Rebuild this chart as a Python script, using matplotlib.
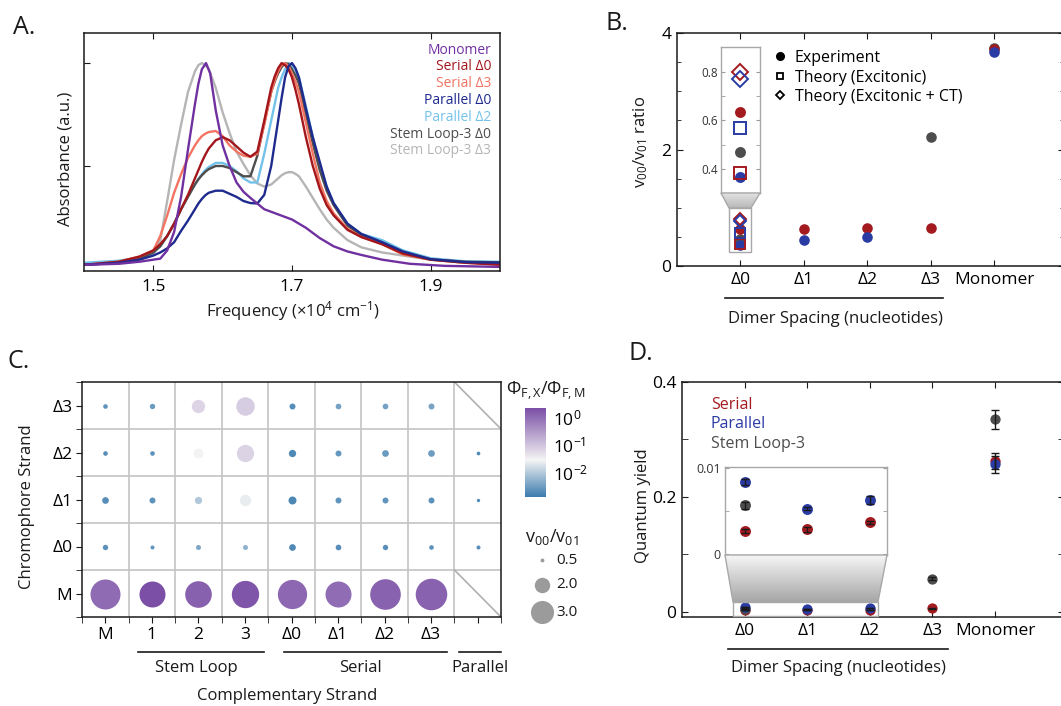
import numpy as np
import matplotlib
matplotlib.use('Agg')
import matplotlib.pyplot as plt
from matplotlib.colors import LinearSegmentedColormap, LogNorm
from matplotlib.cm import ScalarMappable
from matplotlib.lines import Line2D
from matplotlib.patches import Polygon, Rectangle

plt.rcParams['font.family'] = ['Open Sans', 'DejaVu Sans']
plt.rcParams['mathtext.fontset'] = 'custom'
plt.rcParams['mathtext.rm'] = 'Open Sans'
plt.rcParams['mathtext.it'] = 'Open Sans:italic'
plt.rcParams['mathtext.bf'] = 'Open Sans:bold'
plt.rcParams['font.size'] = 12

W, H = 1061, 706

#-----PANEL A: normalised absorbance spectra (x in 1e4 cm^-1)-----#
mono_x = [1.40, 1.45, 1.48, 1.50, 1.51, 1.52, 1.53, 1.54, 1.55, 1.56, 1.565, 1.57, 1.576, 1.582,
          1.59, 1.60, 1.61, 1.62, 1.63, 1.64, 1.66, 1.68, 1.70, 1.72, 1.74, 1.76, 1.78, 1.80,
          1.83, 1.87, 1.92, 2.00]
mono_y = [0.020, 0.025, 0.035, 0.045, 0.050, 0.090, 0.180, 0.350, 0.580, 0.800, 0.900, 0.970, 1.000, 0.950,
          0.770, 0.600, 0.500, 0.420, 0.375, 0.345, 0.290, 0.265, 0.240, 0.200, 0.150, 0.110, 0.085, 0.068,
          0.045, 0.025, 0.015, 0.010]

dimer_x = [1.40, 1.45, 1.48, 1.50, 1.51, 1.52, 1.53, 1.54, 1.55, 1.56, 1.565, 1.57, 1.575, 1.58,
           1.59, 1.60, 1.61, 1.62, 1.63, 1.64, 1.65, 1.66, 1.67, 1.675, 1.68, 1.685, 1.69, 1.695,
           1.70, 1.705, 1.71, 1.72, 1.73, 1.74, 1.75, 1.76, 1.78, 1.80, 1.83, 1.86, 1.90, 1.95, 2.00]
serial_d0 = [0.020, 0.035, 0.060, 0.090, 0.120, 0.160, 0.220, 0.290, 0.360, 0.440, 0.480, 0.520, 0.555, 0.585,
             0.625, 0.640, 0.625, 0.595, 0.565, 0.545, 0.570, 0.720, 0.880, 0.935, 0.975, 1.000, 0.990, 0.970,
             0.930, 0.870, 0.800, 0.640, 0.500, 0.390, 0.310, 0.260, 0.190, 0.155, 0.120, 0.075, 0.045, 0.030, 0.020]
serial_d3 = [0.020, 0.035, 0.060, 0.090, 0.160, 0.260, 0.370, 0.460, 0.540, 0.600, 0.625, 0.645, 0.657, 0.665,
             0.670, 0.645, 0.600, 0.570, 0.550, 0.545, 0.560, 0.700, 0.860, 0.915, 0.960, 0.990, 1.000, 0.985,
             0.950, 0.910, 0.860, 0.710, 0.560, 0.420, 0.330, 0.270, 0.195, 0.155, 0.120, 0.070, 0.045, 0.030, 0.022]
parallel_d0 = [0.020, 0.030, 0.045, 0.065, 0.080, 0.100, 0.130, 0.185, 0.235, 0.290, 0.318, 0.340, 0.358, 0.370,
               0.380, 0.380, 0.365, 0.350, 0.330, 0.320, 0.318, 0.360, 0.500, 0.610, 0.720, 0.830, 0.930, 0.985,
               1.000, 0.975, 0.930, 0.780, 0.640, 0.520, 0.400, 0.320, 0.220, 0.170, 0.130, 0.085, 0.047, 0.033, 0.030]
parallel_d2 = [0.030, 0.040, 0.055, 0.080, 0.110, 0.160, 0.220, 0.290, 0.355, 0.410, 0.437, 0.460, 0.480, 0.495,
               0.515, 0.515, 0.500, 0.475, 0.440, 0.420, 0.420, 0.560, 0.720, 0.800, 0.880, 0.930, 0.970, 1.000,
               0.990, 0.965, 0.930, 0.790, 0.640, 0.500, 0.400, 0.320, 0.220, 0.170, 0.140, 0.090, 0.052, 0.037, 0.035]
stem_d0 = [0.020, 0.030, 0.050, 0.080, 0.110, 0.160, 0.220, 0.290, 0.350, 0.410, 0.435, 0.455, 0.472, 0.485,
           0.500, 0.500, 0.490, 0.470, 0.450, 0.450, 0.550, 0.710, 0.860, 0.910, 0.950, 0.980, 1.000, 0.995,
           0.970, 0.940, 0.900, 0.750, 0.610, 0.480, 0.380, 0.310, 0.210, 0.165, 0.125, 0.080, 0.047, 0.035, 0.032]
stem_d3 = [0.020, 0.030, 0.045, 0.070, 0.140, 0.330, 0.530, 0.700, 0.860, 0.960, 0.990, 1.000, 0.990, 0.970,
           0.880, 0.760, 0.660, 0.570, 0.510, 0.455, 0.415, 0.400, 0.410, 0.425, 0.440, 0.455, 0.465, 0.470,
           0.470, 0.462, 0.450, 0.400, 0.345, 0.290, 0.240, 0.200, 0.140, 0.105, 0.080, 0.065, 0.045, 0.030, 0.028]

spectra_labels = ['Monomer', 'Serial Δ0', 'Serial Δ3', 'Parallel Δ0', 'Parallel Δ2',
                  'Stem Loop-3 Δ0', 'Stem Loop-3 Δ3']
spectra_colors = ['#7030A0', '#A3161B', '#F27462', '#1E2A8E', '#72C2EA', '#4D4D4D', '#B5B5B5']

#-----PANEL B: v00/v01 ratios-----#
spacing_labels = ['Δ0', 'Δ1', 'Δ2', 'Δ3', 'Monomer']
ratio_exp_serial = [0.635, 0.635, 0.65, 0.66, 3.72]
ratio_exp_parallel = [0.365, 0.45, 0.50, np.nan, 3.68]
ratio_exp_stem = [0.47, np.nan, np.nan, 2.22, 3.75]
ratio_exc_serial = 0.385      # theory (excitonic), Δ0 only
ratio_exc_parallel = 0.57
ratio_ct_serial = 0.80        # theory (excitonic + CT), Δ0 only
ratio_ct_parallel = 0.77

#-----PANEL C: grid of quantum-yield ratio (colour) and v00/v01 (size)-----#
comp_labels = ['M', '1', '2', '3', 'Δ0', 'Δ1', 'Δ2', 'Δ3', '']
chrom_labels = ['Δ3', 'Δ2', 'Δ1', 'Δ0', 'M']      # rows, top to bottom
phi_ratio = np.array([
    [0.0025, 0.0030, 0.065, 0.078, 0.0022, 0.0036, 0.0036, 0.0038, np.nan],
    [0.0022, 0.0024, 0.030, 0.068, 0.0020, 0.0028, 0.0030, 0.0032, 0.0020],
    [0.0022, 0.0025, 0.0095, 0.024, 0.0019, 0.0026, 0.0027, 0.0024, 0.0020],
    [0.0024, 0.0026, 0.0042, 0.0056, 0.0020, 0.0023, 0.0023, 0.0024, 0.0022],
    [1.00, 2.10, 1.35, 1.80, 1.10, 0.98, 1.25, 1.25, np.nan]])
vib_ratio = np.array([
    [0.60, 0.70, 1.73, 2.40, 0.78, 0.74, 0.74, 0.78, np.nan],
    [0.60, 0.60, 1.30, 2.25, 0.95, 0.78, 0.87, 0.87, 0.48],
    [0.87, 0.78, 0.95, 1.47, 1.04, 0.78, 0.78, 0.78, 0.43],
    [0.70, 0.52, 0.65, 0.65, 0.87, 0.74, 0.70, 0.60, 0.52],
    [3.90, 3.38, 3.46, 3.55, 3.80, 3.38, 3.98, 4.10, np.nan]])
size_legend_values = [0.5, 2.0, 3.0]

#-----PANEL D: quantum yields-----#
qy_serial = [0.0027, 0.0029, 0.0037, 0.006, 0.263]
qy_serial_err = [0.0002, 0.0003, 0.0002, 0.0015, 0.014]
qy_parallel = [0.0084, 0.0053, 0.0063, np.nan, 0.257]
qy_parallel_err = [0.0003, 0.0002, 0.0005, np.nan, 0.015]
qy_stem = [0.0057, np.nan, np.nan, 0.058, 0.335]
qy_stem_err = [0.0004, np.nan, np.nan, 0.003, 0.017]

RED, BLUE, GREY = '#A31A1F', '#2A3BA3', '#4D4D4D'
FRAME = '#1a1a1a'


def px_rect(l, t, r, b):
    return [l / W, 1 - b / H, (r - l) / W, (b - t) / H]


def frame(ax, color=FRAME, lw=1.1):
    for s in ax.spines.values():
        s.set_color(color)
        s.set_linewidth(lw)


fig = plt.figure(figsize=(W / 100, H / 100), dpi=100)

# ---- A ----
ax_a = fig.add_axes(px_rect(84, 33, 500, 271))
series = [stem_d3, parallel_d2, stem_d0, serial_d3, serial_d0, parallel_d0]
order = [6, 4, 5, 2, 1, 3]
for idx, ys in zip(order, series):
    ax_a.plot(dimer_x, ys, color=spectra_colors[idx], lw=1.7, solid_joinstyle='round')
ax_a.plot(mono_x, mono_y, color=spectra_colors[0], lw=1.7, solid_joinstyle='round')
ax_a.set_xlim(1.4, 2.0)
ax_a.set_ylim(-0.01, 1.146)
ax_a.set_xticks([1.5, 1.7, 1.9])
ax_a.set_yticks([0.5, 1.0])
ax_a.set_yticklabels([])
ax_a.tick_params(direction='in', top=True, length=4, labelsize=12.5, pad=6, color=FRAME)
frame(ax_a)
for i, (lab, col) in enumerate(zip(spectra_labels, spectra_colors)):
    ax_a.text(491 / W, 1 - (50 + i * 16.8) / H, lab, color=col, fontsize=10,
              ha='right', va='center', transform=fig.transFigure)

# ---- B ----
ax_b = fig.add_axes(px_rect(677, 33, 1064, 266))
xs = np.arange(1, 6)
ax_b.scatter(xs, ratio_exp_stem, s=58, color=GREY, zorder=3, lw=0)
ax_b.scatter(xs, ratio_exp_serial, s=58, color=RED, zorder=3, lw=0)
ax_b.scatter(xs, ratio_exp_parallel, s=58, color=BLUE, zorder=3, lw=0)


def theory_markers(ax, ms):
    ax.plot([1], [ratio_exc_serial], ls='none', marker='s', ms=ms * 0.85, mfc='none', mec=RED, mew=1.4, zorder=4)
    ax.plot([1], [ratio_exc_parallel], ls='none', marker='s', ms=ms * 0.85, mfc='none', mec=BLUE, mew=1.4, zorder=4)
    ax.plot([1], [ratio_ct_serial], ls='none', marker='D', ms=ms * 0.8, mfc='none', mec=RED, mew=1.4, zorder=4)
    ax.plot([1], [ratio_ct_parallel], ls='none', marker='D', ms=ms * 0.8, mfc='none', mec=BLUE, mew=1.4, zorder=4)


theory_markers(ax_b, 8)
ax_b.set_xlim(0, 6.1)
ax_b.set_ylim(0, 4)
ax_b.set_xticks(xs)
ax_b.set_xticklabels(spacing_labels)
ax_b.set_yticks([0, 2, 4])
ax_b.set_yticks(np.arange(0, 4.01, 0.5), minor=True)
ax_b.tick_params(direction='in', top=True, right=True, length=4, labelsize=12.5, pad=4, color=FRAME)
ax_b.tick_params(which='minor', direction='in', right=True, length=3, color=FRAME)
frame(ax_b)
handles = [Line2D([], [], ls='none', marker='o', ms=5.5, color='k'),
           Line2D([], [], ls='none', marker='s', ms=5, mfc='none', mec='k', mew=1.3),
           Line2D([], [], ls='none', marker='D', ms=4.5, mfc='none', mec='k', mew=1.3)]
ax_b.legend(handles, ['Experiment', 'Theory (Excitonic)', 'Theory (Excitonic + CT)'],
            loc='upper left', bbox_to_anchor=(774 / W, 1 - 50 / H), bbox_transform=fig.transFigure,
            frameon=False, fontsize=11.5, handlelength=0.8, handletextpad=0.5,
            labelspacing=0.22, borderpad=0, borderaxespad=0)

# inset of B
ins_b = fig.add_axes(px_rect(721, 47, 760, 193))
ins_b.scatter([1], [ratio_exp_serial[0]], s=62, color=RED, lw=0, zorder=3)
ins_b.scatter([1], [ratio_exp_stem[0]], s=62, color=GREY, lw=0, zorder=3)
ins_b.scatter([1], [ratio_exp_parallel[0]], s=62, color=BLUE, lw=0, zorder=3)
theory_markers(ins_b, 10.5)
ins_b.set_xlim(0.5, 1.5)
ins_b.set_ylim(0.301, 0.903)
ins_b.set_xticks([])
ins_b.set_yticks([0.4, 0.6, 0.8])
ins_b.set_yticks([0.5, 0.7], minor=True)
ins_b.tick_params(axis='y', which='both', direction='in', right=True, length=3, color='#9a9a9a',
                  labelsize=8.5, labelcolor='#333333', pad=2)
frame(ins_b, '#a8a8a8', 1.0)

# ---- C ----
ax_c = fig.add_axes(px_rect(82, 382, 501, 617))
cmap = LinearSegmentedColormap.from_list(
    'bwp', [(0.0, '#3A7BAE'), (0.415, '#F4F4F4'), (1.0, '#7B4FA6')])
norm = LogNorm(vmin=10 ** -2.86, vmax=10 ** 0.32)
nrow, ncol = phi_ratio.shape
for i in range(nrow):
    yc = nrow - 1 - i + 0.5
    for j in range(ncol):
        if np.isnan(phi_ratio[i, j]):
            continue
        ax_c.scatter(j + 0.5, yc, s=30.7 * vib_ratio[i, j] ** 2,
                     color=cmap(norm(phi_ratio[i, j])), lw=0, zorder=3)
for k in range(1, ncol):
    ax_c.axvline(k, color='#c4c4c4', lw=1.2, zorder=1)
for k in range(1, nrow):
    ax_c.axhline(k, color='#c4c4c4', lw=1.2, zorder=1)
ax_c.plot([8, 9], [5, 4], color='#b0b0b0', lw=1.2, zorder=1)
ax_c.plot([8, 9], [1, 0], color='#b0b0b0', lw=1.2, zorder=1)
ax_c.set_xlim(0, 9)
ax_c.set_ylim(0, 5)
ax_c.set_xticks(np.arange(ncol) + 0.5)
ax_c.set_xticklabels(comp_labels)
ax_c.set_yticks(np.arange(nrow) + 0.5)
ax_c.set_yticklabels(chrom_labels[::-1])
ax_c.set_xticks(np.arange(0, ncol + 1), minor=True)
ax_c.set_yticks(np.arange(0, nrow + 1), minor=True)
ax_c.tick_params(which='both', direction='out', length=4, color=FRAME, labelsize=12.5, pad=3)
frame(ax_c)

cax = fig.add_axes(px_rect(525, 408, 546, 497))
cb = fig.colorbar(ScalarMappable(norm=norm, cmap=cmap), cax=cax)
cb.outline.set_visible(False)
cb.set_ticks([1, 0.1, 0.01])
cb.set_ticklabels(['10$^{0}$', '10$^{-1}$', '10$^{-2}$'])
cb.ax.minorticks_off()
cb.ax.tick_params(length=0, labelsize=12.5, pad=5)

# ---- D ----
ax_d = fig.add_axes(px_rect(682, 382, 1064, 617))


def qy_points(ax, ms):
    for vals, errs, col in [(qy_serial, qy_serial_err, RED), (qy_stem, qy_stem_err, GREY),
                            (qy_parallel, qy_parallel_err, BLUE)]:
        ax.scatter(xs, vals, s=ms, color=col, lw=0, zorder=3)
        ax.errorbar(xs, vals, yerr=errs, fmt='none', ecolor='#1a1a1a', elinewidth=1.0,
                    capsize=3, capthick=1.0, zorder=4)


qy_points(ax_d, 55)
ax_d.set_xlim(0, 6.1)
ax_d.set_ylim(-0.009, 0.4)
ax_d.set_xticks(xs)
ax_d.set_xticklabels(spacing_labels)
ax_d.set_yticks([0, 0.2, 0.4])
ax_d.set_yticklabels(['0', '0.2', '0.4'])
ax_d.set_yticks([0.1, 0.3], minor=True)
ax_d.tick_params(direction='in', top=True, right=True, length=4, labelsize=12.5, pad=4, color=FRAME)
ax_d.tick_params(which='minor', direction='in', right=True, length=4, color=FRAME)
frame(ax_d)

ins_d = fig.add_axes(px_rect(725, 467, 887, 555))
qy_points(ins_d, 62)
ins_d.set_xlim(0.687, 3.274)
ins_d.set_ylim(-0.0001, 0.01015)
ins_d.set_xticks([])
ins_d.set_yticks([0, 0.01])
ins_d.set_yticklabels(['0', '0.01'])
ins_d.set_yticks([0.005], minor=True)
ins_d.tick_params(axis='y', which='both', direction='in', right=True, length=3, color='#9a9a9a',
                  labelsize=9, labelcolor='#333333', pad=3)
frame(ins_d, '#a8a8a8', 1.0)

# ---- overlay: labels, brackets, zoom funnels ----
ov = fig.add_axes([0, 0, 1, 1], zorder=5)
ov.patch.set_alpha(0)


def funnel(x_top, x_bot, y0, y1, c0, c1):
    poly = Polygon([(x_top[0], y0), (x_top[1], y0), (x_bot[1], y1), (x_bot[0], y1)],
                   closed=True, fc='none', ec='#a8a8a8', lw=1.0, zorder=3)
    ov.add_patch(poly)
    grad = np.linspace(0, 1, 64).reshape(-1, 1)
    gcm = LinearSegmentedColormap.from_list('g', [c0, c1])
    im = ov.imshow(grad, extent=[min(x_top[0], x_bot[0]), max(x_top[1], x_bot[1]), y1, y0],
                   cmap=gcm, aspect='auto', origin='upper', zorder=2)
    im.set_clip_path(poly)


funnel((721, 760), (729, 751), 193, 208, '#e2e2e2', '#b8b8b8')
ov.add_patch(Rectangle((729, 208), 22, 44, fc='none', ec='#a8a8a8', lw=1.0))
funnel((725, 887), (733, 878), 555, 602, '#f6f6f6', '#a6a6a6')
ov.add_patch(Rectangle((733, 602), 145, 14, fc='none', ec='#a8a8a8', lw=1.0))

for x0, x1, y in [(725, 943, 298), (728, 948, 649), (138, 264, 652), (284, 447, 652), (459, 501, 652)]:
    ov.plot([x0, x1], [y, y], color=FRAME, lw=1.2)

texts = [
    (24, 28, 'A.', 18, 'center', 0),
    (617, 24, 'B.', 18, 'center', 0),
    (19, 362, 'C.', 18, 'center', 0),
    (641, 353, 'D.', 18, 'center', 0),
    (65, 159, 'Absorbance (a.u.)', 12, 'center', 90),
    (293, 311, 'Frequency (×10$^{4}$ cm$^{-1}$)', 12, 'center', 0),
    (641, 142, 'v$_{00}$/v$_{01}$ ratio', 12, 'center', 90),
    (835, 319, 'Dimer Spacing (nucleotides)', 12, 'center', 0),
    (27, 507, 'Chromophore Strand', 12, 'center', 90),
    (196, 668, 'Stem Loop', 12, 'center', 0),
    (361, 668, 'Serial', 12, 'center', 0),
    (480, 668, 'Parallel', 12, 'center', 0),
    (287, 696, 'Complementary Strand', 12, 'center', 0),
    (546, 391, 'Φ$_{\\mathrm{F,X}}$/Φ$_{\\mathrm{F,M}}$', 13, 'center', 0),
    (552, 537, 'v$_{00}$/v$_{01}$', 13, 'center', 0),
    (643, 506, 'Quantum yield', 12, 'center', 90),
    (838, 668, 'Dimer Spacing (nucleotides)', 12, 'center', 0),
]
for x, y, s, fs, ha, rot in texts:
    ov.text(x, y, s, fontsize=fs, ha=ha, va='center', rotation=rot, color='#1a1a1a')

for i, (lab, col) in enumerate(zip(['Serial', 'Parallel', 'Stem Loop-3'], [RED, BLUE, GREY])):
    ov.text(711, 405 + i * 19.5, lab, fontsize=11.5, color=col, ha='left', va='center')

for i, v in enumerate(size_legend_values):
    yy = [560, 585, 612][i]
    ov.scatter([542], [yy], s=30.7 * v ** 2, color='#9b9b9b', lw=0)
    ov.text(556, yy, f'{v:.1f}', fontsize=11, ha='left', va='center', color='#1a1a1a')

ov.set_xlim(0, W)
ov.set_ylim(H, 0)
ov.axis('off')

fig.savefig('out.png', dpi=100)
